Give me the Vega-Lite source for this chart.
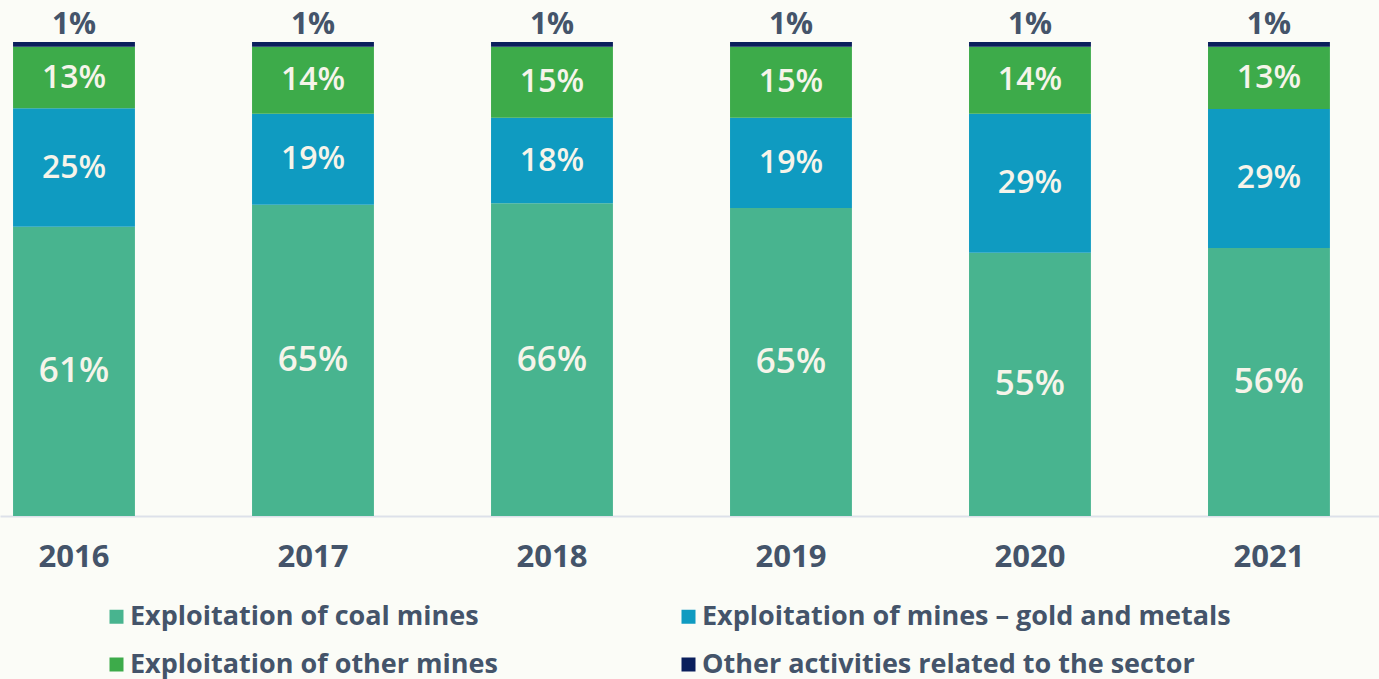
{
  "$schema": "https://vega.github.io/schema/vega-lite/v6.json",
  "width": 1379,
  "height": 474,
  "autosize": "none",
  "padding": {"left": 0, "top": 42, "right": 0, "bottom": 163},
  "background": "#fbfcf7",
  "config": {"view": {"stroke": null}, "font": "Open Sans"},
  "data": {"values": [
    {"year": "2016", "cat": "Exploitation of coal mines", "idx": 1, "value": 0.61},
    {"year": "2016", "cat": "Exploitation of mines – gold and metals", "idx": 2, "value": 0.25},
    {"year": "2016", "cat": "Exploitation of other mines", "idx": 3, "value": 0.13},
    {"year": "2016", "cat": "Other activities related to the sector", "idx": 4, "value": 0.01},
    {"year": "2017", "cat": "Exploitation of coal mines", "idx": 1, "value": 0.65},
    {"year": "2017", "cat": "Exploitation of mines – gold and metals", "idx": 2, "value": 0.19},
    {"year": "2017", "cat": "Exploitation of other mines", "idx": 3, "value": 0.14},
    {"year": "2017", "cat": "Other activities related to the sector", "idx": 4, "value": 0.01},
    {"year": "2018", "cat": "Exploitation of coal mines", "idx": 1, "value": 0.66},
    {"year": "2018", "cat": "Exploitation of mines – gold and metals", "idx": 2, "value": 0.18},
    {"year": "2018", "cat": "Exploitation of other mines", "idx": 3, "value": 0.15},
    {"year": "2018", "cat": "Other activities related to the sector", "idx": 4, "value": 0.01},
    {"year": "2019", "cat": "Exploitation of coal mines", "idx": 1, "value": 0.65},
    {"year": "2019", "cat": "Exploitation of mines – gold and metals", "idx": 2, "value": 0.19},
    {"year": "2019", "cat": "Exploitation of other mines", "idx": 3, "value": 0.15},
    {"year": "2019", "cat": "Other activities related to the sector", "idx": 4, "value": 0.01},
    {"year": "2020", "cat": "Exploitation of coal mines", "idx": 1, "value": 0.55},
    {"year": "2020", "cat": "Exploitation of mines – gold and metals", "idx": 2, "value": 0.29},
    {"year": "2020", "cat": "Exploitation of other mines", "idx": 3, "value": 0.14},
    {"year": "2020", "cat": "Other activities related to the sector", "idx": 4, "value": 0.01},
    {"year": "2021", "cat": "Exploitation of coal mines", "idx": 1, "value": 0.56},
    {"year": "2021", "cat": "Exploitation of mines – gold and metals", "idx": 2, "value": 0.29},
    {"year": "2021", "cat": "Exploitation of other mines", "idx": 3, "value": 0.13},
    {"year": "2021", "cat": "Other activities related to the sector", "idx": 4, "value": 0.01}
  ]},
  "transform": [
    {"stack": "value", "groupby": ["year"], "sort": [{"field": "idx", "order": "ascending"}], "offset": "normalize", "as": ["y0", "y1"]}
  ],
  "encoding": {
    "x": {
      "field": "year", "type": "nominal", "title": null,
      "scale": {"paddingInner": 0.49, "paddingOuter": 0.13, "align": 0.21},
      "axis": {
        "labelAngle": 0, "ticks": false, "domainColor": "#dde1ea", "domainWidth": 2,
        "labelFontSize": 31, "labelFontWeight": 700, "labelColor": "#44546a",
        "labelPadding": 26, "labelFont": "Open Sans"
      }
    }
  },
  "layer": [
    {
      "mark": {"type": "bar"},
      "encoding": {
        "y": {"field": "y0", "type": "quantitative", "scale": {"domain": [0, 1]}, "axis": null},
        "y2": {"field": "y1"},
        "color": {
          "field": "cat", "type": "nominal",
          "sort": ["Exploitation of coal mines", "Exploitation of mines – gold and metals", "Exploitation of other mines", "Other activities related to the sector"],
          "scale": {
            "domain": ["Exploitation of coal mines", "Exploitation of mines – gold and metals", "Exploitation of other mines", "Other activities related to the sector"],
            "range": ["#48b48f", "#0f9bc1", "#3dab4a", "#0a1f5c"]
          },
          "legend": {
            "orient": "none", "legendX": 103, "legendY": 561, "direction": "horizontal", "columns": 2,
            "title": null, "symbolType": "square", "symbolSize": 196, "symbolStrokeWidth": 0, "padding": 0,
            "labelFontSize": 27, "labelFontWeight": 700, "labelColor": "#44546a", "labelFont": "Open Sans",
            "labelOffset": 0, "rowPadding": 20, "columnPadding": 177, "labelLimit": 700
          }
        }
      }
    },
    {
      "transform": [
        {"filter": "datum.idx < 4"},
        {"fold": ["y0", "y1"], "as": ["edge", "pos"]},
        {"aggregate": [{"op": "mean", "field": "pos", "as": "mid"}], "groupby": ["year", "cat", "idx", "value"]}
      ],
      "mark": {"type": "text", "color": "#f6f4ea", "fontWeight": 600, "baseline": "middle", "font": "Open Sans"},
      "encoding": {
        "y": {"field": "mid", "type": "quantitative"},
        "text": {"field": "value", "type": "quantitative", "format": ".0%"},
        "size": {"condition": {"test": "datum.idx == 1", "value": 35}, "value": 32}
      }
    },
    {
      "transform": [{"filter": "datum.idx == 4"}],
      "mark": {"type": "text", "color": "#44546a", "fontWeight": 700, "baseline": "bottom", "dy": -2, "fontSize": 30, "font": "Open Sans"},
      "encoding": {
        "y": {"field": "y1", "type": "quantitative"},
        "text": {"field": "value", "type": "quantitative", "format": ".0%"}
      }
    }
  ]
}
